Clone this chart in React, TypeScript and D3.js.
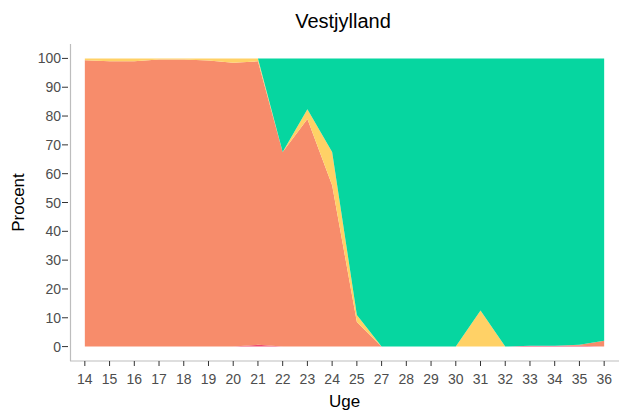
import { useMemo } from 'react'
import { scalePoint, scaleLinear, stack, area, stackOrderNone, stackOffsetNone } from 'd3'

const weeks = ['14', '15', '16', '17', '18', '19', '20', '21', '22', '23', '24', '25', '27', '28', '29', '30', '31', '32', '33', '34', '35', '36']
const series = ['red', 'salmon', 'yellow', 'green']
const red = [0, 0, 0, 0, 0, 0, 0, 0.6, 0, 0, 0, 0, 0, 0, 0, 0, 0, 0, 0.3, 0.3, 0.3, 0]
const salmon = [99.4, 99, 99, 99.6, 99.6, 99.3, 98.5, 98.4, 67.5, 79, 56, 8.5, 0, 0, 0, 0, 0, 0, 0, 0, 0.3, 2]
const yellow = [0.6, 1, 1, 0.4, 0.4, 0.7, 1.5, 1, 0, 3.4, 11.5, 2.5, 0, 0, 0, 0, 12.5, 0, 0, 0, 0, 0]
const green = [0, 0, 0, 0, 0, 0, 0, 0, 32.5, 17.6, 32.5, 89, 100, 100, 100, 100, 87.5, 100, 99.7, 99.7, 99.4, 98]
const yTicks = [0, 10, 20, 30, 40, 50, 60, 70, 80, 90, 100]
const colors: Record<string, string> = { red: '#EF476F', salmon: '#F78C6B', yellow: '#FFD166', green: '#06D6A0' }

const width = 624
const height = 416
const margin = { top: 44, right: 5, bottom: 55, left: 70 }

function App() {
  const rows = useMemo(() => weeks.map((w, i) => ({ week: w, red: red[i], salmon: salmon[i], yellow: yellow[i], green: green[i] })), [])

  const innerWidth = width - margin.left - margin.right
  const innerHeight = height - margin.top - margin.bottom

  const x = scalePoint().domain(weeks).range([0, innerWidth]).padding(0.6)
  const y = scaleLinear().domain([-5, 105]).range([innerHeight, 0])

  const layers = stack<any>().keys(series).order(stackOrderNone).offset(stackOffsetNone)(rows)
  const areaGen = area<any>()
    .x(d => x(d.data.week) as number)
    .y0(d => y(d[0]))
    .y1(d => y(d[1]))

  return (
    <svg width={width} height={height} style={{ position: 'absolute', left: 0, top: 0, fontFamily: 'Liberation Sans, Arial, sans-serif' }}>
      <text x={343} y={28} textAnchor="middle" fontSize={20} fill="#000">Vestjylland</text>
      <g transform={`translate(${margin.left},${margin.top})`}>
        {layers.map(l => (
          <path key={l.key} d={areaGen(l) || ''} fill={colors[l.key]} />
        ))}
        <line x1={0.5} x2={0.5} y1={0} y2={innerHeight} stroke="#BDBDBD" strokeWidth={1.2} />
        <line x1={0} x2={innerWidth} y1={innerHeight} y2={innerHeight} stroke="#BDBDBD" strokeWidth={1.2} />
        {yTicks.map(t => (
          <g key={t} transform={`translate(0,${y(t)})`}>
            <line x1={-8} x2={-2} stroke="#333" />
            <text x={-9} dy="0.36em" textAnchor="end" fontSize={14} fill="#4D4D4D">{t}</text>
          </g>
        ))}
        {weeks.map(w => (
          <g key={w} transform={`translate(${x(w)},${innerHeight})`}>
            <line y1={0} y2={5} stroke="#333" />
            <text y={23} textAnchor="middle" fontSize={14} fill="#4D4D4D">{w}</text>
          </g>
        ))}
        <text x={innerWidth / 2} y={innerHeight + 46} textAnchor="middle" fontSize={17} fill="#000">Uge</text>
        <text transform={`translate(${-46},${innerHeight / 2}) rotate(-90)`} textAnchor="middle" fontSize={17} fill="#000">Procent</text>
      </g>
    </svg>
  )
}

export default App
